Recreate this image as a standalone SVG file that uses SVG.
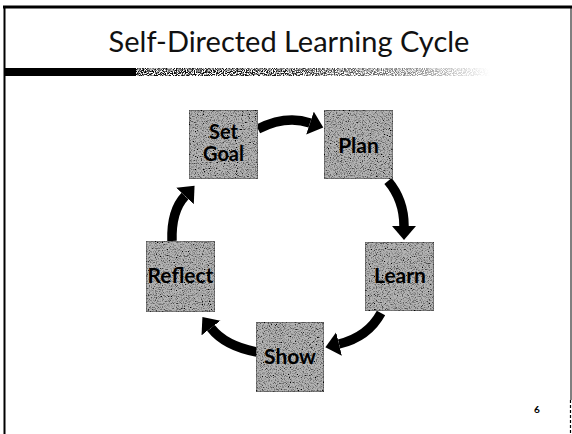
<svg xmlns="http://www.w3.org/2000/svg" width="572" height="434" viewBox="0 0 572 434">
  <style>
    .frame { stroke: #000; fill: none; }
    .title { font-family: "Lato", "Open Sans", "Liberation Sans", sans-serif; font-size: 29px; fill: #111; }
    .box { fill: #b4b4b4; stroke: #555; stroke-width: 1.2; filter: url(#grain); }
    .label { font-family: "Lato", "Open Sans", "Liberation Sans", sans-serif; font-weight: bold; font-size: 21px; fill: #000; text-anchor: middle; }
    .label.small { font-size: 20px; }
    .arrow { fill: none; stroke: #000; stroke-width: 9.5; stroke-linecap: butt; marker-end: url(#head); }
    .pageno { font-family: "Lato", "Liberation Sans", sans-serif; font-weight: bold; font-size: 10px; fill: #000; text-anchor: middle; }
  </style>
  <defs>
    <!-- speckled grey texture for the step boxes -->
    <filter id="grain" x="0" y="0" width="1" height="1">
      <feTurbulence type="fractalNoise" baseFrequency="0.85" numOctaves="2" seed="7" result="noise"/>
      <feColorMatrix in="noise" type="matrix" result="speckle"
        values="3 0 0 0 -0.65  3 0 0 0 -0.65  3 0 0 0 -0.65  0 0 0 0 1"/>
      <feBlend in="SourceGraphic" in2="speckle" mode="multiply" result="tex"/>
      <feComposite in="tex" in2="SourceGraphic" operator="in"/>
    </filter>
    <!-- dissolving rule under the title -->
    <filter id="dissolve" x="0" y="0" width="1" height="1">
      <feTurbulence type="fractalNoise" baseFrequency="0.9" numOctaves="1" seed="2" result="n"/>
      <feColorMatrix in="n" type="matrix" result="mask"
        values="0 0 0 0 0  0 0 0 0 0  0 0 0 0 0  5 0 0 0 -2"/>
      <feComposite in="SourceGraphic" in2="mask" operator="arithmetic" k1="1" k2="0" k3="0" k4="0"/>
    </filter>
    <linearGradient id="fade" x1="0" y1="0" x2="1" y2="0">
      <stop offset="0" stop-color="#000" stop-opacity="1"/>
      <stop offset="0.45" stop-color="#222" stop-opacity="0.9"/>
      <stop offset="0.8" stop-color="#444" stop-opacity="0.45"/>
      <stop offset="1" stop-color="#666" stop-opacity="0"/>
    </linearGradient>
    <marker id="head" markerUnits="userSpaceOnUse" markerWidth="18" markerHeight="26" refX="0" refY="12" orient="auto">
      <path d="M0,0 L14,12 L0,24 z" fill="#000"/>
    </marker>
  </defs>

  <!-- slide frame -->
  <line class="frame" x1="3" y1="7" x2="572" y2="7" stroke-width="3"/>
  <line class="frame" x1="4.5" y1="6" x2="4.5" y2="434" stroke-width="2"/>
  <line class="frame" x1="571" y1="8" x2="571" y2="400" stroke="#bbb" stroke-width="1"/>
  <line class="frame" x1="570.5" y1="400" x2="570.5" y2="434" stroke-width="1.2" stroke-dasharray="3 2"/>

  <!-- title and rule -->
  <text class="title" x="289" y="52" text-anchor="middle">Self-Directed Learning Cycle</text>
  <rect x="4" y="68" width="132" height="8" fill="#000"/>
  <rect x="120" y="68" width="370" height="8" fill="url(#fade)" filter="url(#dissolve)"/>

  <!-- connectors -->
  <g id="connectors">
    <path class="arrow" d="M258,129 Q286,115 310,123"/>
    <path class="arrow" d="M388,181 Q404,200 404,226"/>
    <path class="arrow" d="M381,313 Q368,337 339,344"/>
    <path class="arrow" d="M257,352 Q225,346 211,328"/>
    <path class="arrow" d="M172,241 Q171,211 185,196"/>
  </g>

  <!-- steps -->
  <g id="set-goal">
    <rect class="box" x="189" y="110" width="69" height="69"/>
    <text class="label small" x="223.5" y="139">Set</text>
    <text class="label small" x="223.5" y="161">Goal</text>
  </g>
  <g id="plan">
    <rect class="box" x="324" y="110" width="69" height="69"/>
    <text class="label" x="358.5" y="153">Plan</text>
  </g>
  <g id="learn">
    <rect class="box" x="365" y="242" width="69" height="69"/>
    <text class="label" x="400" y="283">Learn</text>
  </g>
  <g id="show">
    <rect class="box" x="256" y="322" width="68" height="70"/>
    <text class="label" x="290" y="364">Show</text>
  </g>
  <g id="reflect">
    <rect class="box" x="146" y="241" width="69" height="71"/>
    <text class="label" x="180.5" y="283">Reflect</text>
  </g>

  <!-- page number -->
  <text class="pageno" x="537" y="413">6</text>
</svg>
